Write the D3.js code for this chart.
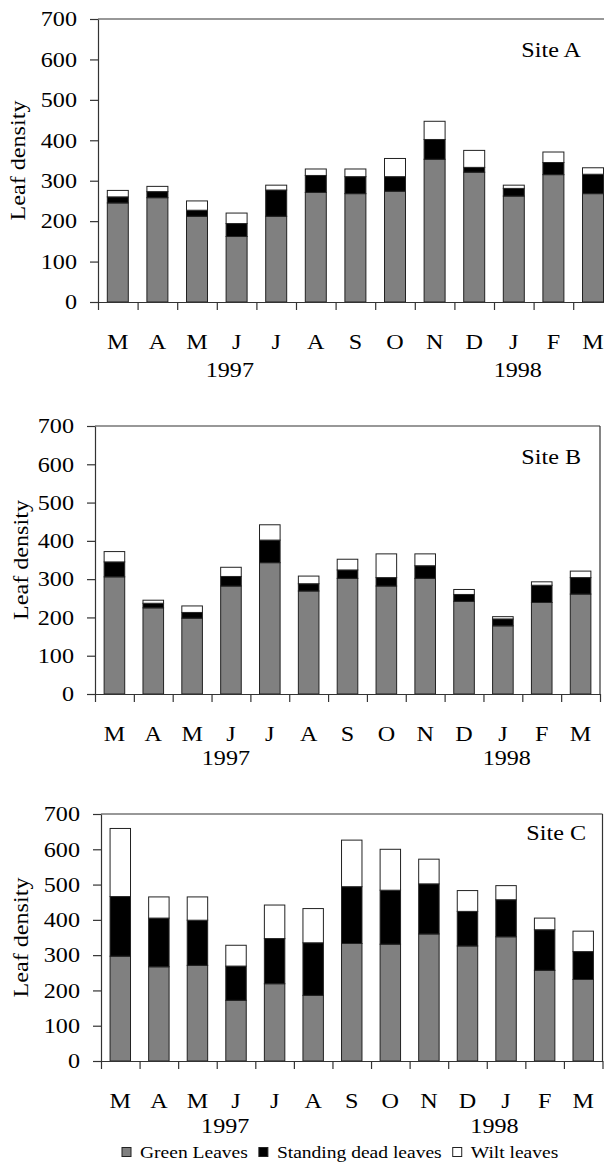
<!DOCTYPE html>
<html>
<head>
<meta charset="utf-8">
<script src="https://cdn.jsdelivr.net/npm/d3@7"></script>
<style>
  body { margin: 0; background: #fff; }
  svg { display: block; }
</style>
</head>
<body>
<script>
// month labels, Mar 1997 .. Mar 1998
var months = ["M", "A", "M", "J", "J", "A", "S", "O", "N", "D", "J", "F", "M"];
var years = ["1997", "1998"];
var yTicks = [0, 100, 200, 300, 400, 500, 600, 700];
var keys = ["green", "dead", "wilt"];
var legendLabels = ["Green Leaves", "Standing dead leaves", "Wilt leaves"];

// Site A
var siteAGreen = [245, 258, 212, 162, 212, 271, 268, 274, 353, 321, 262, 315, 268];
var siteADead  = [15, 15, 15, 32, 65, 42, 42, 36, 49, 12, 19, 30, 48];
var siteAWilt  = [16, 13, 23, 26, 12, 16, 19, 45, 45, 42, 8, 26, 16];

// Site B
var siteBGreen = [306, 225, 198, 282, 343, 269, 302, 282, 302, 242, 178, 239, 261];
var siteBDead  = [39, 12, 15, 25, 59, 19, 22, 22, 33, 18, 18, 45, 43];
var siteBWilt  = [27, 8, 17, 24, 40, 20, 28, 62, 31, 13, 6, 9, 17];

// Site C
var siteCGreen = [297, 267, 271, 172, 219, 186, 333, 331, 360, 326, 352, 257, 231];
var siteCDead  = [169, 138, 128, 97, 128, 149, 161, 153, 142, 98, 105, 115, 79];
var siteCWilt  = [193, 60, 66, 59, 95, 97, 132, 116, 70, 59, 40, 33, 58];

var width = 604,
    height = 1165,
    stretch = 1.15,   // the fonts in the original are wider than Times
    fontSize = 21,
    axisColor = "#333",
    font = "'Liberation Serif', 'DejaVu Serif', serif";

var colors = { green: "#808080", dead: "#000000", wilt: "#ffffff" };

var svg = d3.select("body")
    .append("svg")
    .attr("width", width)
    .attr("height", height)
    .attr("font-family", font);

var panels = [
  { site: "Site A", green: siteAGreen, dead: siteADead, wilt: siteAWilt,
    left: 98, right: 612.8, top: 19, bottom: 302,
    labelX: 25, siteX: 581, siteY: 57, yearDy: 75, yearAt: [3.33, 10.6] },
  { site: "Site B", green: siteBGreen, dead: siteBDead, wilt: siteBWilt,
    left: 95, right: 600, top: 426, bottom: 694,
    labelX: 28, siteX: 581, siteY: 464, yearDy: 71, yearAt: [3.37, 10.6] },
  { site: "Site C", green: siteCGreen, dead: siteCDead, wilt: siteCWilt,
    left: 101, right: 602.5, top: 814, bottom: 1061,
    labelX: 28, siteX: 586, siteY: 840, yearDy: 72, yearAt: [3.22, 10.2] }
];

panels.forEach(drawPanel);
drawLegend();

function widen(sel) {
  sel.selectAll("text").each(function() {
    var t = d3.select(this),
        tx = +(t.attr("x") || 0);
    t.attr("x", 0).attr("transform", "translate(" + tx + ",0) scale(" + stretch + ",1)");
  });
}

function styleAxis(sel) {
  sel.attr("font-size", fontSize).attr("font-family", font);
  sel.selectAll("path, line").attr("stroke", axisColor).attr("stroke-width", 1.2);
  sel.selectAll("text").attr("fill", "#000");
}

function drawPanel(p) {
  var g = svg.append("g");

  var x = d3.scaleBand()
      .domain(d3.range(months.length))
      .range([p.left, p.right])
      .paddingInner(0.47)
      .paddingOuter(0.235);

  var xEdge = d3.scaleLinear()
      .domain([0, months.length])
      .range([p.left, p.right]);

  var y = d3.scaleLinear()
      .domain([0, 700])
      .range([p.bottom, p.top]);

  var rows = months.map(function(m, i) {
    return { green: p.green[i], dead: p.dead[i], wilt: p.wilt[i] };
  });
  var series = d3.stack().keys(keys)(rows);

  // top and right frame lines
  g.append("line")
      .attr("x1", p.left).attr("x2", p.right)
      .attr("y1", y(700)).attr("y2", y(700))
      .attr("stroke", axisColor).attr("stroke-width", 1.2);
  g.append("line")
      .attr("x1", p.right).attr("x2", p.right)
      .attr("y1", y(700)).attr("y2", y(0))
      .attr("stroke", axisColor).attr("stroke-width", 1.2);

  g.selectAll("g.layer")
    .data(series)
    .join("g")
      .attr("class", "layer")
      .attr("fill", function(d) { return colors[d.key]; })
    .selectAll("rect")
    .data(function(d) { return d; })
    .join("rect")
      .attr("x", function(d, i) { return x(i); })
      .attr("y", function(d) { return y(d[1]); })
      .attr("width", x.bandwidth())
      .attr("height", function(d) { return y(d[0]) - y(d[1]); })
      .attr("stroke", "#222")
      .attr("stroke-width", 1);

  // y axis
  g.append("g")
      .attr("transform", "translate(" + p.left + ",0)")
      .call(d3.axisLeft(y).tickValues(yTicks).tickSize(8).tickPadding(13).tickSizeOuter(0))
      .call(styleAxis)
      .call(widen);

  // x axis: ticks at month boundaries
  g.append("g")
      .attr("transform", "translate(0," + p.bottom + ")")
      .call(d3.axisBottom(xEdge).tickValues(d3.range(months.length + 1)).tickSize(8).tickSizeOuter(0).tickFormat(""))
      .call(styleAxis);

  // month labels centred in each band
  g.append("g")
      .attr("transform", "translate(0," + p.bottom + ")")
      .call(d3.axisBottom(x).tickSize(0).tickPadding(32).tickFormat(function(i) { return months[i]; }))
      .call(styleAxis)
      .call(function(a) { a.select(".domain").remove(); })
      .call(widen);

  g.selectAll("text.year")
    .data(years)
    .join("text")
      .attr("class", "year")
      .attr("text-anchor", "middle")
      .attr("font-size", fontSize)
      .attr("transform", function(d, i) {
        return "translate(" + xEdge(p.yearAt[i]) + "," + (p.bottom + p.yearDy) + ") scale(" + stretch + ",1)";
      })
      .text(function(d) { return d; });

  g.append("text")
      .attr("text-anchor", "middle")
      .attr("font-size", fontSize)
      .attr("transform", "translate(" + p.labelX + "," + (p.top + p.bottom) / 2 + ") rotate(-90) scale(" + stretch + ",1)")
      .text("Leaf density");

  g.append("text")
      .attr("text-anchor", "end")
      .attr("font-size", fontSize)
      .attr("transform", "translate(" + p.siteX + "," + p.siteY + ") scale(" + stretch + ",1)")
      .text(p.site);
}

function drawLegend() {
  var lg = svg.append("g"),
      cx = 122,
      cy = 1152,
      box = 9;

  keys.forEach(function(k, i) {
    lg.append("rect")
        .attr("x", cx).attr("y", cy - box / 2)
        .attr("width", box).attr("height", box)
        .attr("fill", colors[k])
        .attr("stroke", "#222");
    var t = lg.append("text")
        .attr("font-size", 17)
        .attr("transform", "translate(" + (cx + 18) + "," + (cy + 5.5) + ") scale(" + stretch + ",1)")
        .text(legendLabels[i]);
    cx = cx + 18 + t.node().getComputedTextLength() * stretch + 11;
  });
}
</script>
</body>
</html>
